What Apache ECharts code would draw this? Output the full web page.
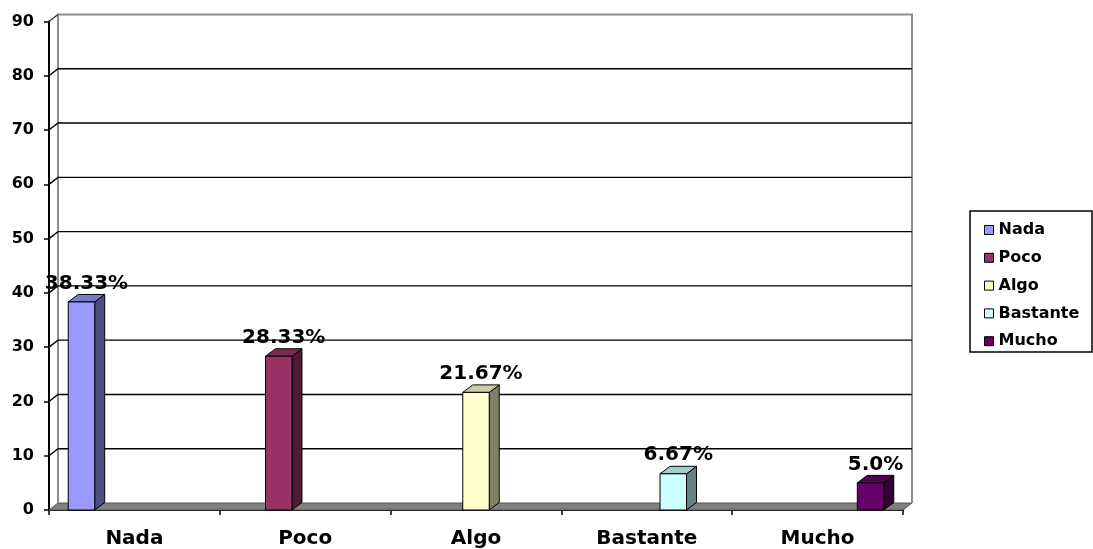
<!DOCTYPE html>
<html>
<head>
<meta charset="utf-8">
<script src="https://cdn.jsdelivr.net/npm/echarts@6/dist/echarts.min.js"></script>
<style>html,body{margin:0;padding:0;background:#fff}#c{width:1093px;height:549px}</style>
</head>
<body>
<div id="c"></div>
<script>
const categories = ['Nada', 'Poco', 'Algo', 'Bastante', 'Mucho'];
const values = [38.33, 28.33, 21.67, 6.67, 5.0];
const valueLabels = ['38.33%', '28.33%', '21.67%', '6.67%', '5.0%'];
const yTicks = [0, 10, 20, 30, 40, 50, 60, 70, 80, 90];
const frontColors = ['#9999FF', '#993366', '#FFFFCC', '#CCFFFF', '#660066'];
const sideColors = ['#4D4D80', '#4D1A33', '#808066', '#668080', '#330033'];
const topColors = ['#7A7ACC', '#7A2952', '#CCCCA3', '#A3CCCC', '#520052'];

const DX = 9, DY = -7;
const BDX = 10, BDY = -7.5;
const FONT = '"DejaVu Sans", "Liberation Sans", Arial, sans-serif';

const chart = echarts.init(document.getElementById('c'), null, {renderer: 'canvas'});

function wallRender(params, api) {
  const cs = params.coordSys;
  const v = api.value(1);
  const y = api.coord([0, v])[1];
  const x0 = cs.x, x1 = cs.x + cs.width;
  const children = [];
  if (v === 0) {
    children.push({type: 'polygon', shape: {points: [[x0, y], [x1, y], [x1 + DX, y + DY], [x0 + DX, y + DY]]},
      style: {fill: '#808080', stroke: '#555', lineWidth: 1}});
    const yTop = api.coord([0, yTicks[yTicks.length - 1]])[1] + DY;
    children.push({type: 'polyline', shape: {points: [[x0 + DX, y + DY], [x0 + DX, yTop], [x1 + DX, yTop], [x1 + DX, y + DY]]},
      style: {fill: null, stroke: '#8c8c8c', lineWidth: 2}});
  } else if (v === yTicks[yTicks.length - 1]) {
    children.push({type: 'line', shape: {x1: x0, y1: y, x2: x0 + DX, y2: y + DY}, style: {stroke: '#333', lineWidth: 1.3}});
  } else {
    children.push({type: 'polyline', shape: {points: [[x0, y], [x0 + DX, y + DY], [x1 + DX, y + DY]]},
      style: {fill: null, stroke: '#000', lineWidth: 1.4}});
  }
  return {type: 'group', children: children};
}

function barRender(i) {
  return function (params, api) {
    const v = api.value(1);
    const c = api.coord([i, v]);
    const b = api.coord([i, 0]);
    const band = api.size([1, 0])[0];
    const bw = band * 0.155;
    const xl = c[0] + (i - 2) * bw - bw / 2;
    const xr = xl + bw;
    const top = c[1], base = b[1];
    return {type: 'group', children: [
      {type: 'polygon', shape: {points: [[xr, top], [xr + BDX, top + BDY], [xr + BDX, base + BDY], [xr, base]]},
        style: {fill: sideColors[i], stroke: '#000', lineWidth: 1}},
      {type: 'polygon', shape: {points: [[xl, top], [xl + BDX, top + BDY], [xr + BDX, top + BDY], [xr, top]]},
        style: {fill: topColors[i], stroke: '#000', lineWidth: 1}},
      {type: 'rect', shape: {x: xl, y: top, width: bw, height: base - top},
        style: {fill: frontColors[i], stroke: '#000', lineWidth: 1}},
      {type: 'text', style: {text: valueLabels[i], x: (xl + xr) / 2 + BDX / 2, y: top + BDY - 1,
        font: 'bold 20px ' + FONT, fill: '#000', align: 'center', verticalAlign: 'bottom',
        textAlign: 'center', textVerticalAlign: 'bottom'}}
    ]};
  };
}

const series = [{
  type: 'custom', name: '_wall', z: 1, silent: true,
  renderItem: wallRender,
  data: yTicks.map(t => [0, t])
}];
categories.forEach((name, i) => {
  series.push({
    type: 'custom', name: name, z: 3,
    itemStyle: {color: frontColors[i], borderColor: '#000', borderWidth: 1},
    renderItem: barRender(i),
    data: [[i, values[i]]]
  });
});

chart.setOption({
  animation: false,
  backgroundColor: '#fff',
  grid: {left: 49, top: 21.5, width: 854, height: 489},
  xAxis: {
    type: 'category', data: categories,
    axisLine: {lineStyle: {color: '#000', width: 2}},
    axisTick: {show: true, length: 5, lineStyle: {color: '#000', width: 1.5}},
    axisLabel: {margin: 19, color: '#000', fontWeight: 'bold', fontSize: 20, fontFamily: FONT},
    splitLine: {show: false}
  },
  yAxis: {
    type: 'value', min: 0, max: 90, interval: 10,
    axisLine: {show: true, lineStyle: {color: '#000', width: 2}},
    axisTick: {show: true, length: 5, lineStyle: {color: '#000', width: 1.5}},
    axisLabel: {margin: 15, color: '#000', fontWeight: 'bold', fontSize: 16, fontFamily: FONT},
    splitLine: {show: false}
  },
  legend: {
    orient: 'vertical', left: 979, top: 217,
    data: categories,
    icon: 'rect', itemWidth: 9, itemHeight: 9, itemGap: 11.8,
    itemStyle: {borderColor: '#000', borderWidth: 1},
    textStyle: {color: '#000', fontWeight: 'bold', fontSize: 16, fontFamily: FONT, lineHeight: 16},
    selectedMode: false
  },
  graphic: [{type: 'rect', shape: {x: 970, y: 211, width: 122, height: 141},
    style: {fill: null, stroke: '#000', lineWidth: 1.5}, z: 100}],
  series: series
});
</script>
</body>
</html>
